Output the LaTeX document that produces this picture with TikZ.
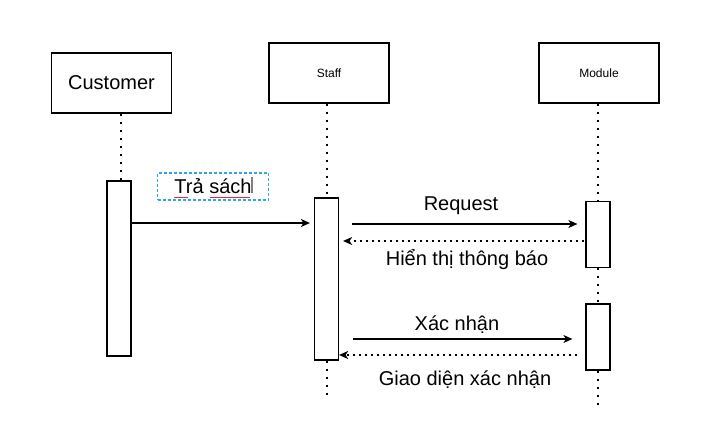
\documentclass[tikz,border=0pt]{standalone}
\usepackage{fontspec}
\setmainfont{Liberation Sans}
\usetikzlibrary{arrows.meta,decorations.pathmorphing}
\definecolor{selblue}{HTML}{2EA6E8}
\definecolor{spellred}{HTML}{E8262B}
\begin{document}
\begin{tikzpicture}[x=1pt,y=-1pt,
    actor/.style={draw,line width=1.2pt,minimum width=120pt,minimum height=60pt,inner sep=0pt},
    act/.style={draw,line width=1.2pt,fill=white,minimum width=24pt,inner sep=0pt},
    life/.style={line width=1.6pt,dash pattern=on 2pt off 6pt},
    msg/.style={-{Stealth[length=9pt,width=8pt,inset=2.5pt]},line width=1.2pt},
    reply/.style={msg,line width=1.5pt,dash pattern=on 2pt off 4pt},
    lbl/.style={font=\fontsize{20}{24}\selectfont,inner sep=1pt}]
  \useasboundingbox (0,0) rectangle (705,446);
  % actors
  \node[actor,font=\fontsize{20}{24}\selectfont] (customer) at (111.5,83) {Customer};
  \node[actor,font=\fontsize{12}{14}\selectfont] (staff) at (329,73) {Staff};
  \node[actor,font=\fontsize{12}{14}\selectfont] (module) at (599,73) {Module};
  % activations
  \node[act,minimum height=175pt] (custact) at (119,268.5) {};
  \node[act,minimum height=162pt] (staffact) at (326.5,279) {};
  \node[act,minimum height=66pt] (modact1) at (598,234.5) {};
  \node[act,minimum height=66pt] (modact2) at (598,337) {};
  % lifelines
  \begin{scope}[life]
    \draw ([xshift=2pt]customer.south -| custact.north) -- ([xshift=2pt]custact.north);
    \draw ([xshift=0.5pt]staff.south -| staffact.north) -- ([xshift=0.5pt]staffact.north);
    \draw ([xshift=0.5pt]staffact.south) -- ++(0,38);
    \draw (module.south -| modact1.north) -- (modact1.north);
    \draw (modact1.south) -- (modact2.north);
    \draw (modact2.south) -- ++(0,35);
  \end{scope}
  % message levels
  \coordinate (y1) at (0,223);
  \coordinate (y2) at (0,224);
  \coordinate (y3) at (0,241);
  \coordinate (y4) at (0,339);
  \coordinate (y5) at (0,355);
  % messages
  \draw[msg,shorten >=4pt] (custact.east |- y1) -- (staffact.west |- y1);
  \draw[msg,shorten <=13pt,shorten >=8pt] (staffact.east |- y2) -- (modact1.west |- y2);
  \draw[reply,shorten <=1pt,shorten >=4pt] (modact1.west |- y3) -- (staffact.east |- y3);
  \draw[msg,shorten <=14pt,shorten >=13pt] (staffact.east |- y4) -- (modact2.west |- y4);
  \draw[reply,shorten <=8pt,shorten >=0pt] (modact2.west |- y5) -- (staffact.east |- y5);
  % labels
  \node[lbl,draw=selblue,line width=1.2pt,dash pattern=on 3pt off 2pt,
        minimum width=111pt,minimum height=27pt] (trasach) at (213,186.5) {Trả sách};
  \node[lbl] (request) at (461,206) {Request};
  \node[lbl] (hienthi) at (467,260) {Hiển thị thông báo};
  \node[lbl] (xacnhan) at (457,325) {Xác nhận};
  \node[lbl] (giaodien) at (465,380) {Giao diện xác nhận};
  % spell-check marks and cursor
  \begin{scope}[spellred,line width=1pt,decorate,decoration={snake,amplitude=1pt,segment length=3pt}]
    \draw (174,197.5) -- (188,197.5);
    \draw (210,197.5) -- (250,197.5);
  \end{scope}
  \draw[gray,line width=1.5pt] (252,177) -- (252,193);
\end{tikzpicture}
\end{document}
